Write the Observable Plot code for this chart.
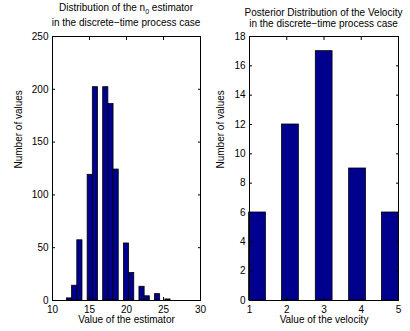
<!DOCTYPE html>
<html><head><meta charset="utf-8">
<script src="https://cdn.jsdelivr.net/npm/d3@7"></script>
<script src="https://cdn.jsdelivr.net/npm/@observablehq/plot@0.6"></script>
<style>
body{margin:0;background:#fff;}
#wrap{position:relative;width:410px;height:331px;overflow:hidden;font-family:"Liberation Sans",Arial,sans-serif;color:#000;}
.panel{position:absolute;top:0;width:205px;height:331px;}
.panel svg{position:absolute;left:0;top:0;}
.tl{position:absolute;text-align:center;font-size:10px;line-height:10px;white-space:nowrap;color:#000;}
.tl sub{font-size:7px;vertical-align:-3px;line-height:0;}
</style></head><body>
<div id="wrap"></div>
<script>
// ---- Left chart: histogram of the n0 estimator ----
const estTitle1 = "Distribution of the n<sub>0</sub> estimator";
const estTitle2 = "in the discrete\u2212time process case";
const estBinCenters = [12.3, 13.0, 13.7, 14.4, 15.1, 15.8, 16.5, 17.2, 17.9, 18.6, 19.3, 20.0, 20.7, 21.4, 22.1, 22.8, 23.5, 24.2, 24.9, 25.6];
const estCounts     = [2, 14, 57, 0, 119, 202, 0, 202, 186, 124, 0, 54, 26, 0, 13, 4, 0, 6, 0, 1];
const estBinWidth = 0.7;
const estXDomain = [10, 30];
const estYDomain = [0, 250];
const estXTicks = [10, 15, 20, 25, 30];
const estYTicks = [0, 50, 100, 150, 200, 250];
const estXLabel = "Value of the estimator";
const estYLabel = "Number of values";

// ---- Right chart: posterior distribution of the velocity ----
const velTitle1 = "Posterior Distribution of the Velocity";
const velTitle2 = "in the discrete\u2212time process case";
const velCenters = [1.215, 2.1, 3.005, 3.9, 4.78];
const velCounts  = [6, 12, 17, 9, 6];
const velBarWidth = 0.45;
const velXDomain = [1, 5];
const velYDomain = [0, 18];
const velXTicks = [1, 2, 3, 4, 5];
const velYTicks = [0, 2, 4, 6, 8, 10, 12, 14, 16, 18];
const velXLabel = "Value of the velocity";
const velYLabel = "Number of values";

const W = 205, H = 331, MT = 36, MB = 31;
const FONT = "Liberation Sans, Arial, sans-serif";

function panel(o) {
  const data = o.centers.map((c, i) => ({x1: c - o.bw / 2, x2: c + o.bw / 2, y: o.counts[i]}));
  const svg = Plot.plot({
    width: W, height: H,
    marginLeft: o.ml, marginRight: o.mr, marginTop: MT, marginBottom: MB,
    style: {fontFamily: FONT, fontSize: "10px", color: "#000", background: "transparent", overflow: "visible"},
    x: {domain: o.xDomain},
    y: {domain: o.yDomain},
    marks: [
      Plot.rect(data, {x1: "x1", x2: "x2", y1: 0, y2: "y", fill: "#00008f", stroke: "#000", strokeWidth: 0.8}),
      Plot.frame({stroke: "#000", strokeWidth: 1}),
      Plot.axisX(o.xTicks, {anchor: "bottom", tickSize: -3, fill: "none", label: null}),
      Plot.axisX(o.xTicks, {anchor: "top", tickSize: -3, fill: "none", label: null}),
      Plot.axisY(o.yTicks, {anchor: "left", tickSize: -3, fill: "none", label: null}),
      Plot.axisY(o.yTicks, {anchor: "right", tickSize: -3, fill: "none", label: null}),
      Plot.axisX(o.xTicks, {anchor: "bottom", tickSize: 0, tickPadding: 5, label: null, fontSize: 10}),
      Plot.axisY(o.yTicks, {anchor: "left", tickSize: 0, tickPadding: 4, label: null, fontSize: 10}),
      Plot.text([o.xLabel], {text: d => d, frameAnchor: "bottom", dy: 19, lineAnchor: "middle", fontSize: 10}),
      Plot.text([o.yLabel], {text: d => d, frameAnchor: "left", rotate: -90, dx: o.ylDx, lineAnchor: "middle", fontSize: 10})
    ]
  });
  const div = document.createElement("div");
  div.className = "panel";
  div.style.left = o.left + "px";
  div.appendChild(svg);
  const pw = W - o.ml - o.mr;
  [[o.t1, o.t1Top], [o.t2, o.t2Top]].forEach(([t, top]) => {
    const d = document.createElement("div");
    d.className = "tl";
    d.style.left = (o.ml - 40) + "px";
    d.style.width = (pw + 80) + "px";
    d.style.top = top + "px";
    d.innerHTML = t;
    div.appendChild(d);
  });
  return div;
}

const wrap = document.getElementById("wrap");
wrap.appendChild(panel({
  left: 0, ml: 52, mr: 5, ylDx: -34,
  centers: estBinCenters, counts: estCounts, bw: estBinWidth,
  xDomain: estXDomain, yDomain: estYDomain, xTicks: estXTicks, yTicks: estYTicks,
  xLabel: estXLabel, yLabel: estYLabel,
  t1: estTitle1, t1Top: 2.5, t2: estTitle2, t2Top: 17.5
}));
wrap.appendChild(panel({
  left: 205, ml: 44, mr: 12, ylDx: -29,
  centers: velCenters, counts: velCounts, bw: velBarWidth,
  xDomain: velXDomain, yDomain: velYDomain, xTicks: velXTicks, yTicks: velYTicks,
  xLabel: velXLabel, yLabel: velYLabel,
  t1: velTitle1, t1Top: 7.5, t2: velTitle2, t2Top: 18.5
}));
</script>
</body></html>
